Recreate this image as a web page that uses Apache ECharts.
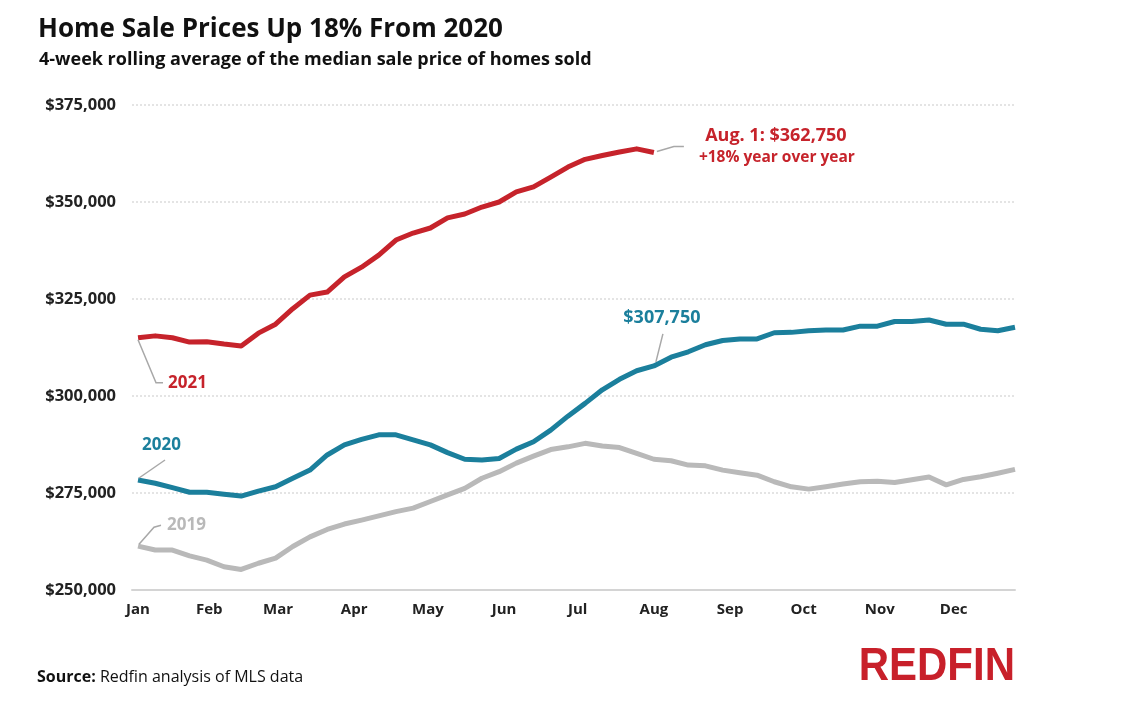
<!DOCTYPE html>
<html>
<head>
<meta charset="utf-8">
<script src="https://cdn.jsdelivr.net/npm/echarts@6/dist/echarts.min.js"></script>
<style>
html,body{margin:0;padding:0;background:#fff;}
#chart{width:1124px;height:706px;}
</style>
</head>
<body>
<div id="chart"></div>
<script>
// Month tick positions (in weeks from first data week) and names
const monthNames = ['Jan','Feb','Mar','Apr','May','Jun','Jul','Aug','Sep','Oct','Nov','Dec'];
const monthPos = [0, 4.14, 8.14, 12.57, 16.86, 21.29, 25.57, 30, 34.43, 38.71, 43.14, 47.43];
const yTicks = [250000, 275000, 300000, 325000, 350000, 375000];

// 4-week rolling average median sale price, weekly
const y2021 = [315000, 315500, 315000, 313900, 314000, 313400, 312900, 316200, 318500, 322500,
  326000, 326800, 330700, 333200, 336300, 340200, 342000, 343300, 345900, 346900,
  348700, 350000, 352600, 353900, 356400, 359000, 361000, 362000, 362900, 363700, 362750];
const y2020 = [278350, 277500, 276400, 275200, 275200, 274700, 274200, 275500, 276600, 278800,
  280900, 284800, 287400, 288800, 290000, 290000, 288700, 287400, 285400, 283700,
  283500, 283900, 286300, 288200, 291200, 294800, 298100, 301600, 304300, 306500,
  307750, 310000, 311400, 313200, 314300, 314700, 314700, 316300, 316400, 316800,
  317000, 317000, 318000, 318000, 319200, 319200, 319600, 318500, 318500, 317200,
  316800, 317700];
const y2019 = [261300, 260300, 260300, 258800, 257700, 256000, 255300, 256900, 258200, 261200,
  263700, 265600, 267000, 268000, 269100, 270200, 271100, 272800, 274500, 276200,
  278800, 280500, 282700, 284500, 286200, 286900, 287800, 287100, 286700, 285200,
  283700, 283300, 282200, 282000, 280900, 280200, 279600, 277900, 276600, 276000,
  276600, 277300, 277900, 278000, 277700, 278400, 279100, 277100, 278500, 279200,
  280100, 281100];

const RED = '#c6232b', TEAL = '#1b7f9c', GRAY = '#b9b9b9', LEAD = '#a8a8a8';
const FONT = '"Open Sans"';

const toPairs = arr => arr.map((v, i) => [i, v]);
const chart = echarts.init(document.getElementById('chart'), null, {renderer: 'canvas'});

chart.setOption({
  animation: false,
  backgroundColor: '#fff',
  textStyle: {fontFamily: FONT},
  title: [
    {text: 'Home Sale Prices Up 18% From 2020', left: 33, top: 12,
     textStyle: {fontFamily: FONT, fontSize: 26, fontWeight: 'bold', color: '#111'}},
    {text: '4-week rolling average of the median sale price of homes sold', left: 34, top: 46,
     textStyle: {fontFamily: FONT, fontSize: 18, fontWeight: 'bold', color: '#111'}}
  ],
  grid: {left: 132, right: 109, top: 105, bottom: 116, containLabel: false},
  xAxis: {
    type: 'value', min: -0.35, max: 51,
    axisLine: {show: true, lineStyle: {color: '#d4d4d4', width: 2}},
    axisTick: {show: false},
    splitLine: {show: false},
    axisLabel: {
      customValues: monthPos,
      formatter: v => { const k = monthPos.findIndex(p => Math.abs(p - v) < 1e-6); return k >= 0 ? monthNames[k] : ''; },
      margin: 12, fontFamily: FONT, fontSize: 15, fontWeight: 'bold', color: '#222'
    }
  },
  yAxis: {
    type: 'value', min: yTicks[0], max: yTicks[yTicks.length - 1], interval: 25000,
    axisLine: {show: false}, axisTick: {show: false},
    splitLine: {show: true, lineStyle: {color: '#dcdcdc', type: [2, 2], width: 1.5}},
    axisLabel: {
      margin: 16, fontFamily: FONT, fontSize: 16.5, fontWeight: 'bold', color: '#222',
      formatter: v => '$' + v.toLocaleString('en-US')
    }
  },
  series: [
    {name: '2019', type: 'line', data: toPairs(y2019), showSymbol: false, z: 2,
     lineStyle: {color: GRAY, width: 5, join: 'round'}, itemStyle: {color: GRAY}},
    {name: '2020', type: 'line', data: toPairs(y2020), showSymbol: false, z: 3,
     lineStyle: {color: TEAL, width: 5, join: 'round'}, itemStyle: {color: TEAL}},
    {name: '2021', type: 'line', data: toPairs(y2021), showSymbol: false, z: 4,
     lineStyle: {color: RED, width: 5, join: 'round'}, itemStyle: {color: RED}}
  ]
});

function px(seriesIndex, arr, i) {
  return chart.convertToPixel({seriesIndex}, [i, arr[i]]);
}
const p21 = px(2, y2021, 0), p20 = px(1, y2020, 0), p19 = px(0, y2019, 0);
const pAug = px(2, y2021, 30), p20Aug = px(1, y2020, 30);
const off = (p, dx, dy) => [p[0] + dx, p[1] + dy];
const lead = pts => ({type: 'polyline', z: 10, shape: {points: pts}, style: {stroke: LEAD, lineWidth: 1.5, fill: null}});
const txt = (p, text, color, size, weight, align) => ({type: 'text', z: 10, x: p[0], y: p[1],
  style: {text, fill: color, font: weight + ' ' + size + 'px ' + FONT, textAlign: align || 'left', textVerticalAlign: 'middle'}});

chart.setOption({
  graphic: [
    lead([off(p21, 0, 2), off(p21, 18, 45), off(p21, 25, 45)]),
    txt(off(p21, 30, 45), '2021', RED, 17, 'bold'),
    lead([off(p20, 1, -2), off(p20, 27, -20)]),
    txt(off(p20, 4, -35), '2020', TEAL, 17, 'bold'),
    lead([off(p19, 1, -2), off(p19, 16, -19), off(p19, 23, -21)]),
    txt(off(p19, 29, -21), '2019', GRAY, 17, 'bold'),
    lead([off(pAug, 3, -1), off(pAug, 20, -6), off(pAug, 30, -6)]),
    txt(off(pAug, 122, -17), 'Aug. 1: $362,750', RED, 18, 'bold', 'center'),
    txt(off(pAug, 123, 5), '+18% year over year', RED, 15.5, 'bold', 'center'),
    lead([off(p20Aug, 2, -4), off(p20Aug, 9, -32)]),
    txt(off(p20Aug, 8, -48), '$307,750', TEAL, 18, 'bold', 'center'),
    {type: 'text', z: 10, x: 37, y: 677, style: {
      text: '{b|Source:}{n| Redfin analysis of MLS data}', textVerticalAlign: 'middle',
      rich: {b: {fontFamily: FONT, fontSize: 16, fontWeight: 'bold', fill: '#111'},
             n: {fontFamily: FONT, fontSize: 16, fontWeight: 'normal', fill: '#111'}}}},
    {type: 'text', z: 10, x: 1015, y: 667, scaleY: 1.12, style: {
      text: 'REDFIN', fill: '#c8202a', font: 'bold 42px "Liberation Sans Narrow", "Liberation Sans", sans-serif',
      textAlign: 'right', textVerticalAlign: 'middle'}}
  ]
});
</script>
</body>
</html>
